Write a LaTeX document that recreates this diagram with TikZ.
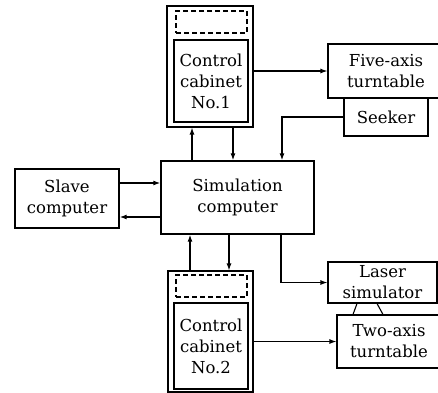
\documentclass[tikz,border=0pt]{standalone}
\usepackage{fontspec}
\setmainfont{DejaVu Serif}
\usetikzlibrary{arrows.meta}

\begin{document}
\begin{tikzpicture}[x=1pt, y=-1pt,
  box/.style={draw=black, line width=1.1pt, inner sep=0pt, align=center, font=\fontsize{16.5}{21}\selectfont},
  dbox/.style={draw=black, line width=1.1pt, dash pattern=on 5pt off 3pt, inner sep=0pt},
  arr/.style={draw=black, line width=1.2pt, -{Latex[length=7pt,width=5pt]}}]
\clip (0,0) rectangle (438,392);
\node[box, minimum width=86, minimum height=121] (cab1) at (210,66.5) {};
\node[dbox, minimum width=71, minimum height=22] (cab1d) at (211.5,22) {};
\node[box, line width=1.5pt, minimum width=74, minimum height=82] (cab1i) at (211,81) {Control\\cabinet\\No.1};
\node[box, minimum width=85, minimum height=121] (cab2) at (210.5,331.5) {};
\node[dbox, minimum width=71, minimum height=22] (cab2d) at (211.5,286) {};
\node[box, line width=1.5pt, minimum width=74, minimum height=86] (cab2i) at (211,346) {Control\\cabinet\\No.2};
\node[box, line width=1.4pt, minimum width=153, minimum height=73] (sim) at (237.5,197.5) {Simulation\\computer};
\node[box, line width=1.4pt, minimum width=104, minimum height=59] (slave) at (67,198.5) {Slave\\computer};
\node[box, minimum width=116, minimum height=54] (five) at (386,71) {Five-axis\\turntable};
\node[box, minimum width=84, minimum height=38] (seeker) at (386,117) {Seeker};
\node[box, minimum width=109, minimum height=41] (laser) at (382.5,282.5) {Laser\\simulator};
\node[box, minimum width=104, minimum height=53] (two) at (389,341.5) {Two-axis\\turntable};
\draw[arr] (five.west -| cab1.east) -- (five.west);
\draw[arr] ([xshift=-45.5]sim.north) -- ([xshift=-45.5]sim.north |- cab1.south);
\draw[arr] ([xshift=-4.5]sim.north |- cab1.south) -- ([xshift=-4.5]sim.north);
\draw[arr] (seeker.west) -| ([xshift=44.5]sim.north);
\draw[arr] ([yshift=15.5]slave.east) -- ([yshift=15.5]slave.east -| sim.west);
\draw[arr] ([yshift=-18.5]slave.east -| sim.west) -- ([yshift=-18.5]slave.east);
\draw[arr] ([xshift=-47.5]sim.south |- cab2.north) -- ([xshift=-47.5]sim.south);
\draw[arr] ([xshift=-8.5]sim.south) -- ([xshift=-8.5]sim.south |- cab2.north);
\draw[arr] ([xshift=43.5]sim.south) |- (laser.west);
\draw[arr] (two.west -| cab2.east) -- (two.west);
\draw[line width=1.1pt] ([xshift=-25.5]laser.south) -- ([xshift=-29.5]laser.south |- two.north);
\draw[line width=1.1pt] ([xshift=-5.5]laser.south) -- ([xshift=0.5]laser.south |- two.north);
\end{tikzpicture}
\end{document}
